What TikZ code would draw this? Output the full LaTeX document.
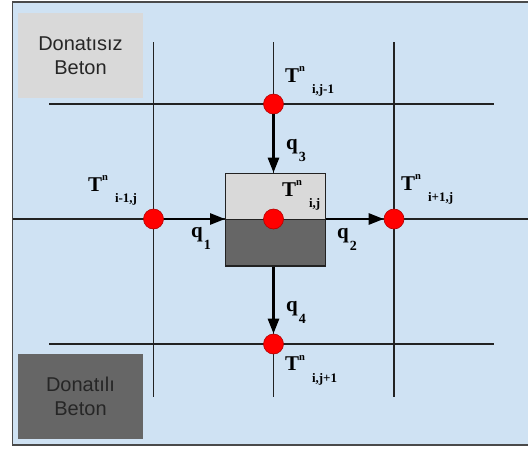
\documentclass[tikz,border=0pt]{standalone}
\usepackage{fontspec}
\setmainfont{Liberation Serif}
\newfontfamily\legendfont{Liberation Sans}
\usetikzlibrary{arrows.meta}
\definecolor{bgblue}{HTML}{CFE2F3}
\definecolor{lgray}{HTML}{D9D9D9}
\definecolor{dgray}{HTML}{666666}
\definecolor{framecol}{HTML}{4A4A4A}
\definecolor{gridcol}{HTML}{222222}
\definecolor{txtcol}{HTML}{262626}
\definecolor{dotred}{HTML}{FF0000}
\newcommand\Tl[1]{{\fontsize{21}{21}\selectfont\bfseries T}\raisebox{10.5pt}{\fontsize{10.5}{10.5}\selectfont\bfseries n}\hspace{7pt}\raisebox{-11.5pt}{\fontsize{13}{13}\selectfont\bfseries #1}}
\newcommand\ql[1]{{\fontsize{21}{21}\selectfont\bfseries q}\hspace{1pt}\raisebox{-12pt}{\fontsize{14}{14}\selectfont\bfseries #1}}
\tikzset{
  gridline/.style={draw=gridcol, line width=1.3pt},
  dot/.style={circle, inner sep=0pt, minimum size=20pt, fill=dotred, draw=red!70!black, line width=0.6pt},
  flux/.style={draw=black, line width=2.6pt, -{Triangle[length=15pt,width=11pt]}},
  legend/.style={inner sep=0pt, minimum width=125pt, minimum height=85pt, align=center, text=txtcol, font=\legendfont\fontsize{20}{24}\selectfont},
  cellhalf/.style={rectangle, inner sep=0pt, minimum width=100pt, minimum height=46pt, draw=gridcol, line width=1.2pt},
  lab/.style={inner sep=0pt, anchor=base west, text=black}
}
\begin{document}
\begin{tikzpicture}[x=1pt, y=-1pt]
\useasboundingbox (0,0) rectangle (528,448);
\clip (0,0) rectangle (528,448);
\fill[white] (0,0) rectangle (528,448);
% frame
\draw[draw=framecol, fill=bgblue, line width=1.6pt] (12.5,2) rectangle (560,445);
% legend boxes
\node[legend, fill=lgray] (legA) at (80.5,55.5) {Donatısız\\Beton};
\node[legend, fill=dgray] (legB) at (80.5,396) {Donatılı\\Beton};
% grid coordinates
\coordinate (vA1) at (153.5,42);  \coordinate (vA2) at (153.5,397);
\coordinate (vB1) at (273.5,42);  \coordinate (vB2) at (273.5,397);
\coordinate (vC1) at (394,42);    \coordinate (vC2) at (394,397);
\coordinate (hA1) at (49,104);    \coordinate (hA2) at (494,104);
\coordinate (hB1) at (12.5,219);  \coordinate (hB2) at (528,219);
\coordinate (hC1) at (49,344);    \coordinate (hC2) at (494,344);
\draw[gridline] (vA1) -- (vA2);
\draw[gridline] (vB1) -- (vB2);
\draw[gridline] (vC1) -- (vC2);
\draw[gridline] (hA1) -- (hA2);
\draw[gridline] (hB1) -- (hB2);
\draw[gridline] (hC1) -- (hC2);
% central cell
\node[cellhalf, fill=lgray] (cellT) at (275.7,196.3) {};
\node[cellhalf, fill=dgray, minimum height=46.7pt] (cellB) at (275.7,242.65) {};
% nodes
\node[dot] (nT) at (273.5,104) {};
\node[dot] (nL) at (153.5,219) {};
\node[dot] (nC) at (273.5,219) {};
\node[dot] (nR) at (394,219) {};
\node[dot] (nB) at (273.5,344) {};
% fluxes
\draw[flux] (nT) -- (nT |- cellT.north);
\draw[flux] (nL) -- (nL -| cellT.west);
\draw[flux] (nC -| cellT.east) -- (nR);
\draw[flux] (nB |- cellB.south) -- (nB);
% labels
\node[lab] (lT) at (285,82) {\Tl{i,j-1}};
\node[lab] (lL) at (88,191) {\Tl{i-1,j}};
\node[lab] (lC) at (282,196) {\Tl{i,j}};
\node[lab] (lR) at (401,190) {\Tl{i+1,j}};
\node[lab] (lB) at (285,370.5) {\Tl{i,j+1}};
\node[lab] (q1) at (191,237) {\ql{1}};
\node[lab] (q2) at (337,238) {\ql{2}};
\node[lab] (q3) at (286,149) {\ql{3}};
\node[lab] (q4) at (286,311) {\ql{4}};
\end{tikzpicture}
\end{document}
